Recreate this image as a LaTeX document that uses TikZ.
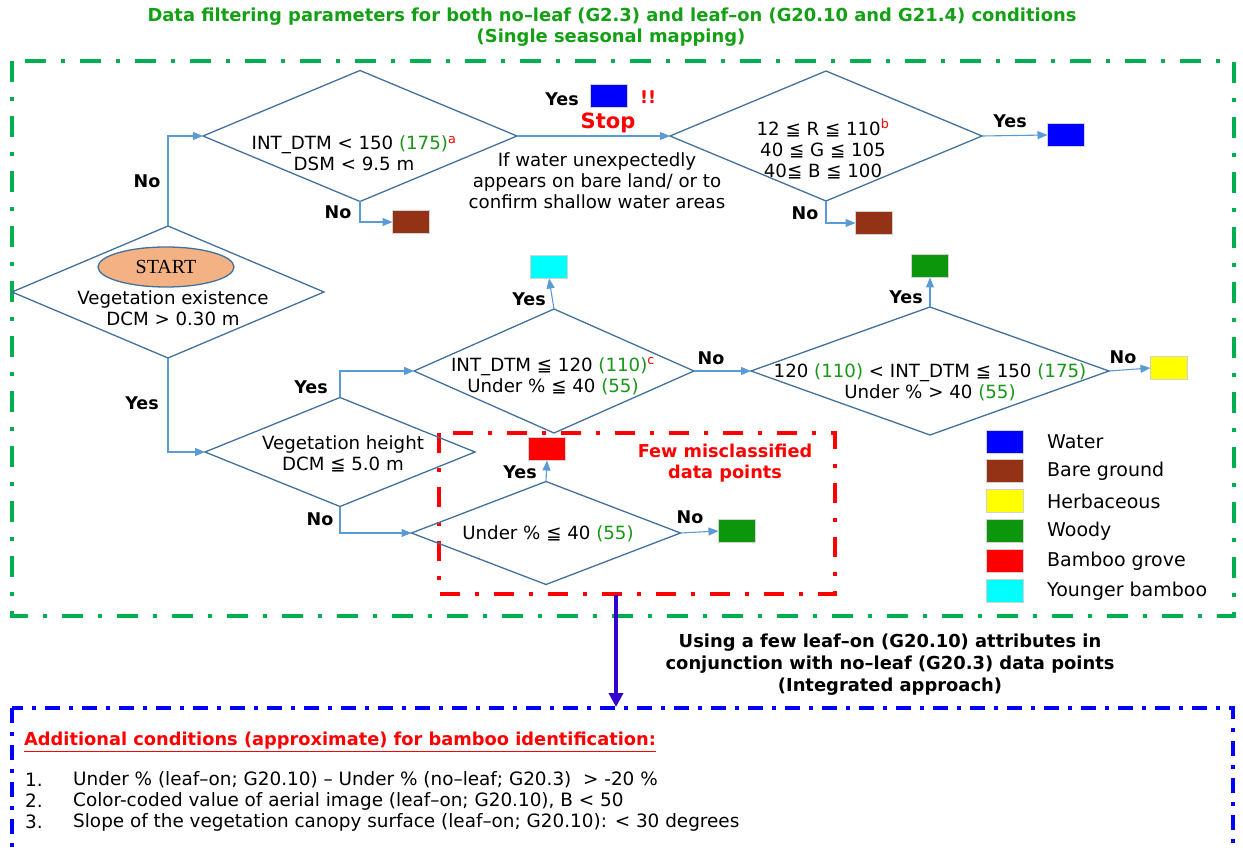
\documentclass[tikz,border=0pt]{standalone}
\usepackage{fontspec}
\setmainfont{DejaVu Sans}
\newfontfamily\startfont{Liberation Serif}
\usetikzlibrary{shapes.geometric,arrows.meta}
\definecolor{frameG}{RGB}{0,176,80}
\definecolor{dstroke}{RGB}{65,113,156}
\definecolor{connC}{RGB}{91,155,213}
\definecolor{numG}{RGB}{24,150,24}
\definecolor{titleG}{RGB}{20,160,20}
\definecolor{cBlue}{RGB}{0,0,255}
\definecolor{cBrown}{RGB}{148,50,22}
\definecolor{cYellow}{RGB}{255,255,0}
\definecolor{cWoody}{RGB}{12,150,12}
\definecolor{cRed}{RGB}{255,0,0}
\definecolor{cCyan}{RGB}{0,255,255}
\definecolor{cBorder}{RGB}{210,210,210}
\definecolor{startFill}{RGB}{244,177,131}
\definecolor{arrowP}{RGB}{51,0,204}
\newcommand{\gnum}[1]{\textcolor{numG}{#1}}
\newcommand{\redsup}[1]{\textsuperscript{\textcolor{cRed}{#1}}}
\tikzset{
  dia/.style 2 args={diamond, draw=dstroke, line width=1.3pt, inner sep=0pt, outer sep=0pt, minimum width=#1, minimum height=#2},
  res/.style={draw=cBorder, line width=1.3pt, minimum width=37pt, minimum height=23pt, inner sep=0pt, outer sep=0pt, fill=#1},
  connector/.style={draw=connC, line width=1.1pt, -{Triangle[length=10pt,width=8pt]}},
  lab/.style={font=\bfseries\fontsize{17.5}{20}\selectfont, inner sep=0pt},
  dtext/.style={align=center, font=\fontsize{18.2}{21}\selectfont, inner sep=0pt},
  legtxt/.style={anchor=west, font=\fontsize{19}{22}\selectfont, inner sep=0pt},
  titletxt/.style={font=\bfseries\fontsize{17.9}{20}\selectfont, text=titleG, inner sep=0pt},
  itemtxt/.style={anchor=west, inner sep=0pt, font=\fontsize{18.4}{21}\selectfont},
  gframe/.style={draw=frameG, line width=3.6pt, dash pattern=on 21pt off 15pt on 4pt off 15pt},
  rframe/.style={draw=cRed, line width=3.8pt, dash pattern=on 20pt off 15pt on 4pt off 15pt},
  bframe/.style={draw=cBlue, line width=3.4pt, dash pattern=on 15pt off 9pt on 4pt off 9pt},
}
\begin{document}
\begin{tikzpicture}[x=1pt,y=-1pt]
\useasboundingbox (0,0) rectangle (1243,850);
\clip (0,0) rectangle (1243,850);
\fill[white] (0,0) rectangle (1243,850);

% titles
\node[titletxt] (t1) at (612,17) {Data filtering parameters for both no–leaf (G2.3) and leaf–on (G20.10 and G21.4) conditions};
\node[titletxt] (t2) at (611,38) {(Single seasonal mapping)};

% frames
\draw[gframe] (12,61) rectangle (1234,616);
\draw[rframe] (439,433) rectangle (835,594);
\draw[bframe] (12,708) rectangle (1233,880);

% diamonds
\node[dia={312pt}{132pt}] (d0) at (168,292) {};
\node[dia={314pt}{131pt}] (d1) at (360,136) {};
\node[dia={312pt}{130pt}] (d2) at (826,136) {};
\node[dia={270pt}{109pt}] (d3) at (340,452) {};
\node[dia={280pt}{124pt}] (d4) at (554,371) {};
\node[dia={358pt}{128pt}] (d5) at (930,371) {};
\node[dia={269pt}{103pt}] (d6) at (546,533) {};

% start ellipse
\node[ellipse, draw=dstroke, line width=1.3pt, fill=startFill, minimum width=136pt, minimum height=40pt, inner sep=0pt, font=\startfont\fontsize{20}{22}\selectfont] (start) at (166,267) {START};

% diamond texts
\node[dtext] (x0) at (173,308) {Vegetation existence\\DCM > 0.30 m};
\node[dtext] (x1) at (354,153) {INT\_DTM < 150 \gnum{(175)}\redsup{a}\\DSM < 9.5 m};
\node[dtext] (x2) at (823,149) {12 ≦ R ≦ 110\redsup{b}\\40 ≦ G ≦ 105\\40≦ B ≦ 100};
\node[dtext] (x3) at (343,454) {Vegetation height\\DCM ≦ 5.0 m};
\node[dtext] (x4) at (553,376) {INT\_DTM ≦ 120 \gnum{(110)}\redsup{c}\\Under \% ≦ 40 \gnum{(55)}};
\node[dtext] (x5) at (930,382) {120 \gnum{(110)} < INT\_DTM ≦ 150 \gnum{(175)}\\Under \% > 40 \gnum{(55)}};
\node[dtext] (x6) at (548,534) {Under \% ≦ 40 \gnum{(55)}};

% result boxes
\node[res=cBlue] (wat1) at (609,96) {};
\node[res=cBrown] (bare1) at (411,222) {};
\node[res=cBlue] (wat2) at (1066,135) {};
\node[res=cBrown] (bare2) at (874,223) {};
\node[res=cCyan] (ycyan) at (549,267) {};
\node[res=cWoody] (wood1) at (930,266) {};
\node[res=cYellow] (herb) at (1169,368) {};
\node[res=cRed] (bamb) at (547,449) {};
\node[res=cWoody] (wood2) at (737,531) {};

% connectors
\draw[connector] (d0.north) |- (d1.west);
\draw[connector] (d1.south) |- (bare1.west);
\draw[connector] (d1.east) -- (d2.west);
\draw[connector] (d2.east) -- (wat2.west);
\draw[connector] (d2.south) |- (bare2.west);
\draw[connector] (d0.south) |- (d3.west);
\draw[connector] (d3.north) |- (d4.west);
\draw[connector] (d4.north) -- (ycyan.south);
\draw[connector] (d4.east) -- (d5.west);
\draw[connector] (d5.north) -- (wood1.south);
\draw[connector] (d5.east) -- (herb.west);
\draw[connector] (d3.south) |- (d6.west);
\draw[connector] (d6.north) -- (bamb.south);
\draw[connector] (d6.east) -- (wood2.west);

% labels
\node[lab] (l1) at (147,181) {No};
\node[lab] (l2) at (338,212) {No};
\node[lab] (l3) at (562,99) {Yes};
\node[lab, text=cRed] (l3b) at (648,97) {!!};
\node[font=\bfseries\fontsize{21}{24}\selectfont, text=cRed, inner sep=0pt] (stop) at (608,123) {Stop};
\node[dtext] (wnote) at (597,181) {If water unexpectedly\\appears on bare land/ or to\\confirm shallow water areas};
\node[lab] (l4) at (1010,121) {Yes};
\node[lab] (l5) at (805,213) {No};
\node[lab] (l6) at (142,403) {Yes};
\node[lab] (l7) at (311,387) {Yes};
\node[lab] (l8) at (529,299) {Yes};
\node[lab] (l9) at (711,358) {No};
\node[lab] (l10) at (906,297) {Yes};
\node[lab] (l11) at (1123,357) {No};
\node[lab] (l12) at (320,519) {No};
\node[lab] (l13) at (520,472) {Yes};
\node[lab] (l14) at (690,517) {No};
\node[align=center, font=\bfseries\fontsize{17.7}{21}\selectfont, text=cRed, inner sep=0pt] (few) at (725,463) {Few misclassified\\data points};

% legend
\node[res=cBlue] (lg1) at (1005,442) {};
\node[res=cBrown] (lg2) at (1005,471) {};
\node[res=cYellow] (lg3) at (1005,501) {};
\node[res=cWoody] (lg4) at (1005,531) {};
\node[res=cRed] (lg5) at (1005,561) {};
\node[res=cCyan] (lg6) at (1005,591) {};
\node[legtxt] at (1047,442) {Water};
\node[legtxt] at (1047,471) {Bare ground};
\node[legtxt] at (1047,501) {Herbaceous};
\node[legtxt] at (1047,531) {Woody};
\node[legtxt] at (1047,561) {Bamboo grove};
\node[legtxt] at (1047,591) {Younger bamboo};

% integration arrow
\coordinate (pa) at (616,595);
\coordinate (pb) at (616,707);
\draw[draw=arrowP, line width=3.5pt, -{Triangle[length=14pt,width=14pt]}] (pa) -- (pb);
\node[align=center, font=\bfseries\fontsize{17.9}{22}\selectfont, inner sep=0pt] (integ) at (890,665) {Using a few leaf–on (G20.10) attributes in\\conjunction with no–leaf (G20.3) data points\\(Integrated approach)};

% bottom conditions
\node[anchor=west, inner sep=0pt, text=cRed, font=\bfseries\fontsize{17.8}{20}\selectfont] (addh) at (24,742) {\underline{Additional conditions (approximate) for bamboo identification:}};
\node[itemtxt] at (25,780) {1.};
\node[itemtxt] at (25,801) {2.};
\node[itemtxt] at (25,822) {3.};
\node[itemtxt] at (73,780) {Under \% (leaf–on; G20.10) – Under \% (no–leaf; G20.3) \ > -20 \%};
\node[itemtxt] at (73,801) {Color-coded value of aerial image (leaf–on; G20.10), B < 50};
\node[itemtxt] at (73,822) {Slope of the vegetation canopy surface (leaf–on; G20.10): < 30 degrees};
\end{tikzpicture}
\end{document}
